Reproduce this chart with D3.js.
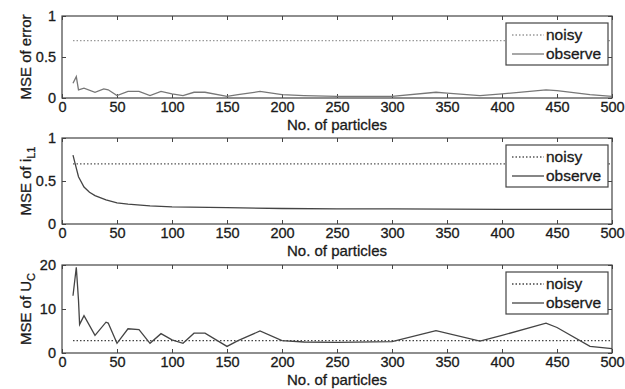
<!DOCTYPE html>
<html>
<head>
<meta charset="utf-8">
<script src="https://cdn.jsdelivr.net/npm/d3@7"></script>
<style>
  body { margin: 0; background: #fff; }
  text { font-family: "Liberation Sans", Arial, sans-serif; fill: #1a1a1a; stroke: #1a1a1a; stroke-width: 0.3px; }
</style>
</head>
<body>
<div id="chart"></div>
<script>
// data
const xTicks = [0, 50, 100, 150, 200, 250, 300, 350, 400, 450, 500];

const errX = [10, 13, 15, 20, 30, 38, 42, 50, 60, 70, 80, 90, 100, 110, 120, 130, 150, 160, 180, 200, 220, 250, 300, 340, 350, 380, 400, 440, 450, 480, 500];
const errObs = [0.18, 0.26, 0.1, 0.12, 0.07, 0.11, 0.1, 0.03, 0.08, 0.08, 0.03, 0.08, 0.05, 0.03, 0.07, 0.07, 0.02, 0.04, 0.08, 0.04, 0.03, 0.02, 0.02, 0.07, 0.06, 0.03, 0.05, 0.1, 0.09, 0.04, 0.02];
const errNoisy = 0.7;

const iX = [10, 12, 15, 20, 25, 30, 40, 50, 60, 80, 100, 150, 200, 250, 300, 400, 500];
const iObs = [0.8, 0.7, 0.55, 0.43, 0.37, 0.33, 0.28, 0.245, 0.23, 0.21, 0.2, 0.19, 0.18, 0.175, 0.175, 0.17, 0.17];
const iNoisy = 0.7;

const uX = [10, 13, 15, 16, 20, 30, 40, 42, 50, 60, 70, 80, 90, 100, 110, 120, 130, 150, 160, 180, 200, 220, 250, 300, 340, 380, 400, 440, 450, 480, 500];
const uObs = [13, 19.5, 12, 6.5, 8.5, 4, 7, 6.8, 2.2, 5.5, 5.3, 2.2, 4.4, 3, 2.2, 4.5, 4.5, 1.5, 2.8, 5, 2.8, 2.5, 2.4, 2.6, 5.1, 2.7, 4, 6.8, 5.8, 1.5, 1];
const uNoisy = 2.8;

const width = 625, height = 389;
const left = 62, right = 612;

const panels = [
  {top: 16, bottom: 98, yMax: 1, yTicks: [0, 0.5, 1], x: errX, obs: errObs, noisy: errNoisy,
   label: ["MSE of error", null], obsColor: "#777", noisyColor: "#999"},
  {top: 138, bottom: 224, yMax: 1, yTicks: [0, 0.5, 1], x: iX, obs: iObs, noisy: iNoisy,
   label: ["MSE of i", "L1"], obsColor: "#444", noisyColor: "#555"},
  {top: 265, bottom: 353, yMax: 20, yTicks: [0, 10, 20], x: uX, obs: uObs, noisy: uNoisy,
   label: ["MSE of U", "C"], obsColor: "#444", noisyColor: "#444"}
];

const svg = d3.select("#chart").append("svg")
  .attr("width", width)
  .attr("height", height);

const x = d3.scaleLinear().domain([0, 500]).range([left, right]);

panels.forEach(p => {
  const y = d3.scaleLinear().domain([0, p.yMax]).range([p.bottom, p.top]);
  const g = svg.append("g");

  // inward ticks on all four sides, matlab style
  g.append("g")
    .attr("transform", `translate(0,${p.bottom})`)
    .call(d3.axisBottom(x).tickValues(xTicks).tickSizeInner(-4).tickSizeOuter(0).tickPadding(4))
    .call(a => a.selectAll("text").attr("font-size", 14.5));
  g.append("g")
    .attr("transform", `translate(0,${p.top})`)
    .call(d3.axisTop(x).tickValues(xTicks).tickSizeInner(-4).tickSizeOuter(0).tickFormat(""));
  g.append("g")
    .attr("transform", `translate(${left},0)`)
    .call(d3.axisLeft(y).tickValues(p.yTicks).tickSizeInner(-4).tickSizeOuter(0).tickPadding(6).tickFormat(d3.format("")))
    .call(a => a.selectAll("text").attr("font-size", 14.5));
  g.append("g")
    .attr("transform", `translate(${right},0)`)
    .call(d3.axisRight(y).tickValues(p.yTicks).tickSizeInner(-4).tickSizeOuter(0).tickFormat(""));
  g.selectAll(".domain").remove();
  g.selectAll(".tick line").attr("stroke", "#444");

  g.append("rect")
    .attr("x", left).attr("y", p.top)
    .attr("width", right - left).attr("height", p.bottom - p.top)
    .attr("fill", "none").attr("stroke", "#444").attr("stroke-width", 1.2);

  // noisy reference level
  g.append("line")
    .attr("x1", x(10)).attr("x2", x(500))
    .attr("y1", y(p.noisy)).attr("y2", y(p.noisy))
    .attr("stroke", p.noisyColor).attr("stroke-width", 1.3)
    .attr("stroke-dasharray", "1.5,2");

  const line = d3.line().x((d, i) => x(p.x[i])).y(d => y(d));
  g.append("path")
    .datum(p.obs)
    .attr("d", line)
    .attr("fill", "none")
    .attr("stroke", p.obsColor)
    .attr("stroke-width", 1.3);

  // legend
  const lx = 506, ly = p.top + 7;
  const lg = g.append("g");
  lg.append("rect")
    .attr("x", lx).attr("y", ly).attr("width", 102).attr("height", 42)
    .attr("fill", "#fff").attr("stroke", "#444").attr("stroke-width", 1.2);
  lg.append("line")
    .attr("x1", lx + 6).attr("x2", lx + 38).attr("y1", ly + 12).attr("y2", ly + 12)
    .attr("stroke", p.noisyColor).attr("stroke-width", 1.3).attr("stroke-dasharray", "1.5,2");
  lg.append("line")
    .attr("x1", lx + 6).attr("x2", lx + 38).attr("y1", ly + 31).attr("y2", ly + 31)
    .attr("stroke", p.obsColor).attr("stroke-width", 1.3);
  lg.append("text").attr("x", lx + 40).attr("y", ly + 17).attr("font-size", 15.5).text("noisy");
  lg.append("text").attr("x", lx + 40).attr("y", ly + 36).attr("font-size", 15.5).text("observe");

  // axis labels
  g.append("text")
    .attr("x", (left + right) / 2).attr("y", p.bottom + 32)
    .attr("text-anchor", "middle").attr("font-size", 15)
    .text("No. of particles");

  const yl = g.append("text")
    .attr("transform", `translate(31,${(p.top + p.bottom) / 2}) rotate(-90)`)
    .attr("text-anchor", "middle").attr("font-size", 15);
  yl.append("tspan").text(p.label[0]);
  if (p.label[1]) {
    yl.append("tspan").attr("dy", 4).attr("font-size", 11).text(p.label[1]);
  }
});
</script>
</body>
</html>
